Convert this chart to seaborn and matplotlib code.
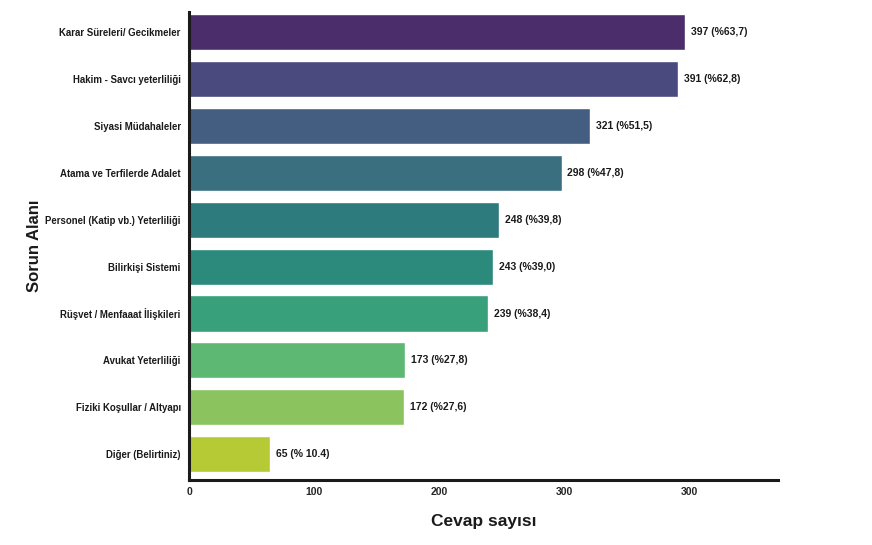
import matplotlib
matplotlib.use("Agg")
import matplotlib.pyplot as plt
import seaborn as sns
import pandas as pd

categories = [
    "Karar Süreleri/ Gecikmeler",
    "Hakim - Savcı yeterliliği",
    "Siyasi Müdahaleler",
    "Atama ve Terfilerde Adalet",
    "Personel (Katip vb.) Yeterliliği",
    "Bilirkişi Sistemi",
    "Rüşvet / Menfaaat İlişkileri",
    "Avukat Yeterliliği",
    "Fiziki Koşullar / Altyapı",
    "Diğer (Belirtiniz)",
]
counts = [397, 391, 321, 298, 248, 243, 239, 173, 172, 65]
value_labels = [
    "397 (%63,7)", "391 (%62,8)", "321 (%51,5)", "298 (%47,8)", "248 (%39,8)",
    "243 (%39,0)", "239 (%38,4)", "173 (%27,8)", "172 (%27,6)", "65 (% 10.4)",
]
xticks = [0, 100, 200, 300, 400]
xtick_labels = ["0", "100", "200", "300", "300"]

colors = ["#4B2D6B", "#4B4A7E", "#435E80", "#3A6F80", "#2E7B7E",
          "#2C8A7C", "#38A07A", "#5CB873", "#8BC45E", "#B5CA35"]

sns.set_style("white")
plt.rcParams["font.family"] = ["Liberation Sans", "DejaVu Sans"]

df = pd.DataFrame({"cat": categories, "n": counts})

fig = plt.figure(figsize=(8.72, 5.45), dpi=100)
ax = fig.add_axes([189 / 872, 1 - 480 / 545, (778 - 189) / 872, (480 - 12) / 545])

sns.barplot(data=df, y="cat", x="n", hue="cat", palette=colors, legend=False,
            orient="h", width=0.77, saturation=1, ax=ax)

for i, (v, lab) in enumerate(zip(counts, value_labels)):
    ax.text(v + 4.5, i, lab, va="center", ha="left", fontsize=7.5,
            fontweight="bold", color="#1a1a1a")

ax.set_xlim(0, 471)
ax.set_ylim(9.55, -0.43)
ax.set_xticks(xticks)
ax.set_xticklabels(xtick_labels, fontsize=7.5, fontweight="bold")
for t in ax.get_yticklabels():
    t.set_fontsize(6.9)
    t.set_fontweight("bold")
    t.set_color("#1a1a1a")

ax.set_xlabel("Cevap sayısı", fontsize=12.5, fontweight="bold", color="#1a1a1a", labelpad=12)
ax.set_ylabel("Sorun Alanı", fontsize=12, fontweight="bold", color="#1a1a1a")
ax.yaxis.set_label_coords(-0.25, 0.5)

sns.despine(ax=ax)
for s in ["left", "bottom"]:
    ax.spines[s].set_linewidth(2.2)
    ax.spines[s].set_color("#1a1a1a")
ax.tick_params(axis="both", length=2, width=0.8, color="#1a1a1a", pad=3)
ax.tick_params(axis="y", pad=4)

fig.savefig("out.png", dpi=100)
